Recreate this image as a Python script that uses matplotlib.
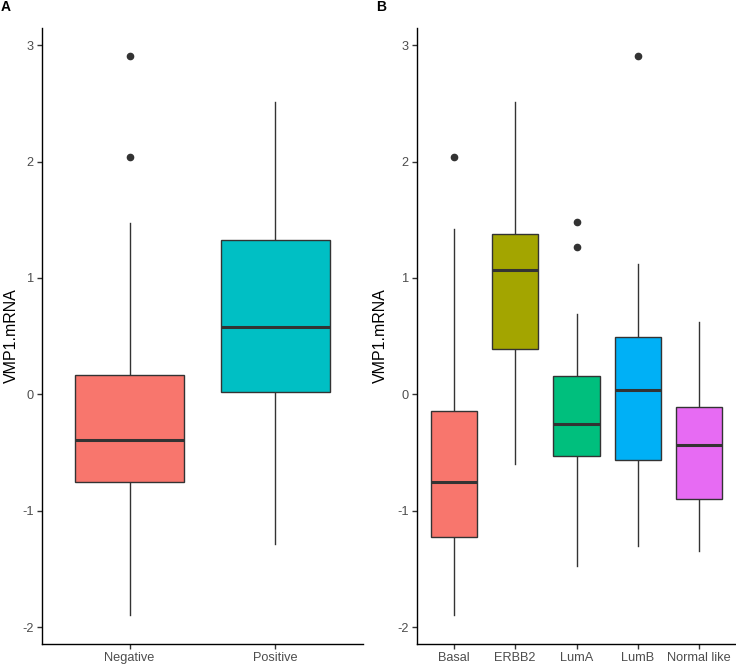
import matplotlib
matplotlib.use("Agg")
import matplotlib.pyplot as plt

plt.rcParams['font.family'] = ['Liberation Sans', 'DejaVu Sans']

# Panel A data
cats_a = ["Negative", "Positive"]
colors_a = ["#F8766D", "#00BFC4"]
med_a = [-0.39, 0.58]
q1_a = [-0.755, 0.024]
q3_a = [0.17, 1.323]
wlo_a = [-1.90, -1.289]
whi_a = [1.476, 2.514]
fliers_a = [[2.908, 2.037], []]

# Panel B data
cats_b = ["Basal", "ERBB2", "LumA", "LumB", "Normal like"]
colors_b = ["#F8766D", "#A3A500", "#00BF7D", "#00B0F6", "#E76BF3"]
med_b = [-0.755, 1.068, -0.252, 0.037, -0.432]
q1_b = [-1.228, 0.388, -0.531, -0.561, -0.901]
q3_b = [-0.143, 1.378, 0.16, 0.49, -0.112]
wlo_b = [-1.895, -0.602, -1.476, -1.306, -1.347]
whi_b = [1.425, 2.514, 0.687, 1.119, 0.626]
fliers_b = [[2.037], [], [1.483, 1.265], [2.908], []]

yticks = [-2, -1, 0, 1, 2, 3]
ylim = (-2.145, 3.148)

fig = plt.figure(figsize=(7.36, 6.64), dpi=100)
H = 664.0
W = 736.0
top_px, bot_px = 28, 644
axA = fig.add_axes([42 / W, (H - bot_px) / H, (363 - 42) / W, (bot_px - top_px) / H])
axB = fig.add_axes([417 / W, (H - bot_px) / H, (736 - 417) / W, (bot_px - top_px) / H])

edge = "#333333"


def draw(ax, cats, colors, med, q1, q3, wlo, whi, fliers, left_px, label_x_px):
    stats = []
    for i, c in enumerate(cats):
        stats.append(dict(med=med[i], q1=q1[i], q3=q3[i], whislo=wlo[i],
                          whishi=whi[i], fliers=fliers[i], label=c))
    pos = list(range(1, len(cats) + 1))
    bp = ax.bxp(stats, positions=pos, widths=0.75, patch_artist=True,
                showcaps=False,
                boxprops=dict(edgecolor=edge, linewidth=1.0),
                medianprops=dict(color=edge, linewidth=2.2),
                whiskerprops=dict(color=edge, linewidth=1.0),
                flierprops=dict(marker='o', markerfacecolor=edge,
                                markeredgecolor=edge, markersize=4.5))
    for patch, col in zip(bp['boxes'], colors):
        patch.set_facecolor(col)
    for w in bp['whiskers']:
        w.set_zorder(1)
    ax.set_xlim(0.4, len(cats) + 0.6)
    ax.set_ylim(*ylim)
    ax.set_yticks(yticks)
    ax.set_yticklabels([str(t) for t in yticks])
    ax.set_xticks(pos)
    ax.set_xticklabels(cats)
    for s in ['top', 'right']:
        ax.spines[s].set_visible(False)
    for s in ['left', 'bottom']:
        ax.spines[s].set_linewidth(1.0)
        ax.spines[s].set_color('black')
    ax.tick_params(axis='both', length=3.5, width=1.0, color='#333333',
                   labelcolor='#4D4D4D', labelsize=9.2, pad=2.5)
    ax.set_ylabel("VMP1.mRNA", fontsize=11.5, color='black')
    width_px = ax.get_position().width * W
    ax.yaxis.set_label_coords((label_x_px - left_px) / width_px, 0.5)
    ax.yaxis.label.set_va('center')


draw(axA, cats_a, colors_a, med_a, q1_a, q3_a, wlo_a, whi_a, fliers_a, 42, 11)
draw(axB, cats_b, colors_b, med_b, q1_b, q3_b, wlo_b, whi_b, fliers_b, 417, 380)

fig.text(1 / W, 1 - 7 / H, "A", fontsize=10, fontweight='bold', va='center', ha='left')
fig.text(376 / W, 1 - 7 / H, "B", fontsize=10, fontweight='bold', va='center', ha='left')

fig.savefig("out.png", dpi=100)
